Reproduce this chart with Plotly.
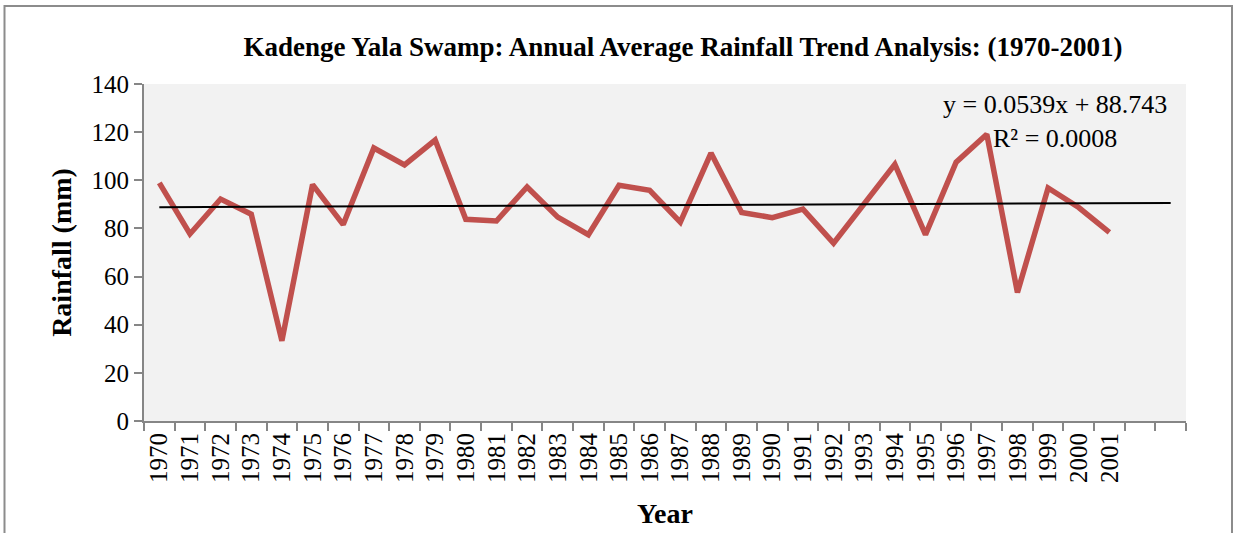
import plotly.graph_objects as go

years = [str(y) for y in range(1970, 2002)]
rainfall = [98.9, 77.7, 92.2, 85.9, 33.3, 98.2, 81.6, 113.4, 106.4, 116.7,
            83.8, 83.1, 97.2, 84.7, 77.4, 97.9, 95.8, 82.6, 111.3, 86.6,
            84.5, 88.0, 73.9, 90.2, 106.6, 77.4, 107.5, 119.1, 53.4, 96.8,
            88.7, 78.4]
extra_categories = [" ", "  "]
trend_slope = 0.0539
trend_intercept = 88.743

categories = years + extra_categories
trend_y = [trend_slope * (i + 1) + trend_intercept for i in range(len(categories))]

FONT = "Liberation Serif, Times New Roman, serif"
AXIS_GRAY = "#868686"

fig = go.Figure()
fig.add_trace(go.Scatter(x=years, y=rainfall, mode="lines",
                         line=dict(color="#C0504D", width=5.5),
                         showlegend=False))
fig.add_trace(go.Scatter(x=categories, y=trend_y, mode="lines",
                         line=dict(color="#000000", width=2),
                         showlegend=False))

W, H = 1235, 533
L, R, T, B = 144, 49, 84, 112
pw, ph = W - L - R, H - T - B

fig.update_layout(
    width=W, height=H,
    margin=dict(l=L, r=R, t=T, b=B),
    paper_bgcolor="white",
    plot_bgcolor="#F2F2F2",
    font=dict(family=FONT, color="#000000", size=25),
    title=dict(text="<b>Kadenge Yala Swamp: Annual Average Rainfall Trend Analysis: (1970-2001)</b>",
               x=683 / W, xanchor="center", y=1 - 47 / H, yanchor="middle",
               yref="container", font=dict(family=FONT, size=27, color="#000000")),
    xaxis=dict(type="category", categoryorder="array", categoryarray=categories,
               range=[-0.5, len(categories) - 0.5], automargin=False,
               tickson="boundaries", ticks="outside", ticklen=8, tickwidth=2,
               tickcolor=AXIS_GRAY, showline=True, linecolor=AXIS_GRAY, linewidth=2,
               showgrid=False, zeroline=False, tickangle=-90,
               tickfont=dict(family=FONT, size=25, color="#000000"),
               title=dict(text="<b>Year</b>", standoff=21,
                          font=dict(family=FONT, size=28, color="#000000"))),
    yaxis=dict(range=[0, 140], dtick=20, ticks="outside", ticklen=8, tickwidth=2,
               tickcolor=AXIS_GRAY, showline=True, linecolor=AXIS_GRAY, linewidth=2,
               showgrid=False, zeroline=False, automargin=False,
               tickfont=dict(family=FONT, size=25, color="#000000"),
               title=dict(text="<b>Rainfall (mm)</b>", standoff=12,
                          font=dict(family=FONT, size=28, color="#000000"))),
    annotations=[dict(text="y = 0.0539x + 88.743<br>R² = 0.0008",
                      xref="paper", yref="paper",
                      x=(1055 - L) / pw, y=(H - B - 121.5) / ph,
                      xanchor="center", yanchor="middle", align="center",
                      showarrow=False,
                      font=dict(family=FONT, size=26, color="#000000"))],
    shapes=[dict(type="rect", xref="paper", yref="paper",
                 x0=(4.5 - L) / pw, x1=(1232 - L) / pw,
                 y0=(H - B - 545) / ph, y1=(H - B - 6) / ph,
                 line=dict(color="#8C8C8C", width=2), fillcolor="rgba(0,0,0,0)",
                 layer="below")],
)

fig.write_html("out.html", config={"displayModeBar": False},
               post_script="document.body.style.margin='0';")
